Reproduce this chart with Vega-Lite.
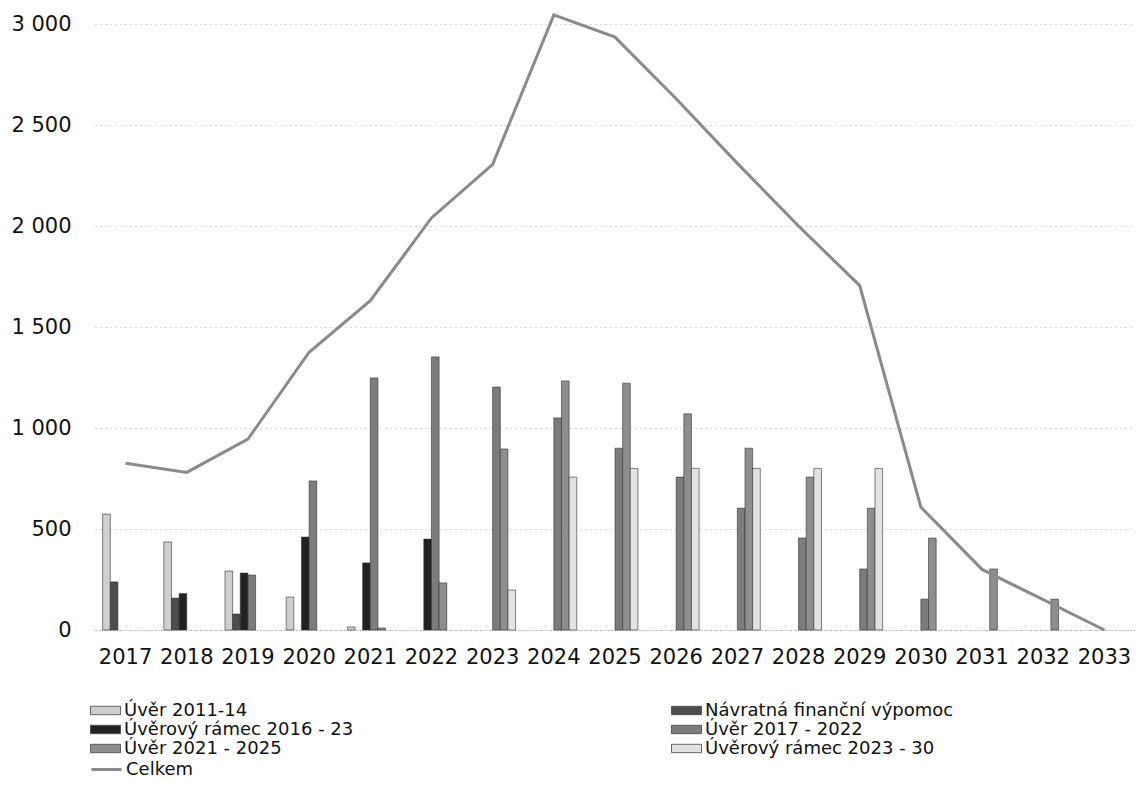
{
  "$schema": "https://vega.github.io/schema/vega-lite/v6.json",
  "width": 1040,
  "height": 606,
  "autosize": {"type": "none"},
  "padding": {"left": 95, "top": 24, "right": 1, "bottom": 166},
  "background": "white",
  "config": {"view": {"stroke": null}, "font": "DejaVu Sans"},
  "data": {
    "values": [
      {"year": "2017", "series": "Úvěr 2011-14", "value": 574},
      {"year": "2017", "series": "Návratná finanční výpomoc", "value": 238},
      {"year": "2018", "series": "Úvěr 2011-14", "value": 436},
      {"year": "2018", "series": "Návratná finanční výpomoc", "value": 158},
      {"year": "2018", "series": "Úvěrový rámec  2016 - 23", "value": 180},
      {"year": "2019", "series": "Úvěr 2011-14", "value": 292},
      {"year": "2019", "series": "Návratná finanční výpomoc", "value": 79},
      {"year": "2019", "series": "Úvěrový rámec  2016 - 23", "value": 282},
      {"year": "2019", "series": "Úvěr 2017 - 2022", "value": 272},
      {"year": "2020", "series": "Úvěr 2011-14", "value": 163},
      {"year": "2020", "series": "Úvěrový rámec  2016 - 23", "value": 460},
      {"year": "2020", "series": "Úvěr 2017 - 2022", "value": 738},
      {"year": "2021", "series": "Úvěr 2011-14", "value": 15},
      {"year": "2021", "series": "Úvěrový rámec  2016 - 23", "value": 332},
      {"year": "2021", "series": "Úvěr 2017 - 2022", "value": 1248},
      {"year": "2021", "series": "Úvěr 2021 - 2025", "value": 10},
      {"year": "2022", "series": "Úvěrový rámec  2016 - 23", "value": 450},
      {"year": "2022", "series": "Úvěr 2017 - 2022", "value": 1352},
      {"year": "2022", "series": "Úvěr 2021 - 2025", "value": 233},
      {"year": "2023", "series": "Úvěr 2017 - 2022", "value": 1203},
      {"year": "2023", "series": "Úvěr 2021 - 2025", "value": 896},
      {"year": "2023", "series": "Úvěrový rámec  2023 - 30", "value": 198},
      {"year": "2024", "series": "Úvěr 2017 - 2022", "value": 1050},
      {"year": "2024", "series": "Úvěr 2021 - 2025", "value": 1233},
      {"year": "2024", "series": "Úvěrový rámec  2023 - 30", "value": 757},
      {"year": "2025", "series": "Úvěr 2017 - 2022", "value": 900},
      {"year": "2025", "series": "Úvěr 2021 - 2025", "value": 1222},
      {"year": "2025", "series": "Úvěrový rámec  2023 - 30", "value": 800},
      {"year": "2026", "series": "Úvěr 2017 - 2022", "value": 757},
      {"year": "2026", "series": "Úvěr 2021 - 2025", "value": 1070},
      {"year": "2026", "series": "Úvěrový rámec  2023 - 30", "value": 800},
      {"year": "2027", "series": "Úvěr 2017 - 2022", "value": 603},
      {"year": "2027", "series": "Úvěr 2021 - 2025", "value": 900},
      {"year": "2027", "series": "Úvěrový rámec  2023 - 30", "value": 800},
      {"year": "2028", "series": "Úvěr 2017 - 2022", "value": 455},
      {"year": "2028", "series": "Úvěr 2021 - 2025", "value": 757},
      {"year": "2028", "series": "Úvěrový rámec  2023 - 30", "value": 800},
      {"year": "2029", "series": "Úvěr 2017 - 2022", "value": 302},
      {"year": "2029", "series": "Úvěr 2021 - 2025", "value": 603},
      {"year": "2029", "series": "Úvěrový rámec  2023 - 30", "value": 800},
      {"year": "2030", "series": "Úvěr 2017 - 2022", "value": 153},
      {"year": "2030", "series": "Úvěr 2021 - 2025", "value": 455},
      {"year": "2031", "series": "Úvěr 2021 - 2025", "value": 302},
      {"year": "2032", "series": "Úvěr 2021 - 2025", "value": 153},
      {"year": "2017", "series": "Celkem", "value": 825},
      {"year": "2018", "series": "Celkem", "value": 780},
      {"year": "2019", "series": "Celkem", "value": 945},
      {"year": "2020", "series": "Celkem", "value": 1375},
      {"year": "2021", "series": "Celkem", "value": 1630},
      {"year": "2022", "series": "Celkem", "value": 2040},
      {"year": "2023", "series": "Celkem", "value": 2305},
      {"year": "2024", "series": "Celkem", "value": 3045},
      {"year": "2025", "series": "Celkem", "value": 2935},
      {"year": "2026", "series": "Celkem", "value": 2630},
      {"year": "2027", "series": "Celkem", "value": 2310},
      {"year": "2028", "series": "Celkem", "value": 2000},
      {"year": "2029", "series": "Celkem", "value": 1705},
      {"year": "2030", "series": "Celkem", "value": 608},
      {"year": "2031", "series": "Celkem", "value": 300},
      {"year": "2032", "series": "Celkem", "value": 150},
      {"year": "2033", "series": "Celkem", "value": 0}
    ]
  },
  "layer": [
    {
      "transform": [{"filter": "datum.series !== 'Celkem'"}],
      "mark": {"type": "bar", "stroke": "#333", "strokeWidth": 0.6},
      "encoding": {
        "x": {
          "field": "year",
          "type": "ordinal",
          "scale": {"paddingInner": 0, "paddingOuter": 0},
          "axis": {
            "title": null,
            "labelAngle": 0,
            "labelFontSize": 21,
            "labelColor": "#111",
            "labelPadding": 16,
            "ticks": false,
            "domainColor": "#999",
            "domainDash": [1, 2],
            "domainWidth": 1
          }
        },
        "xOffset": {
          "field": "series",
          "type": "nominal",
          "scale": {
            "domain": ["Úvěr 2011-14", "Návratná finanční výpomoc", "Úvěrový rámec  2016 - 23", "Úvěr 2017 - 2022", "Úvěr 2021 - 2025", "Úvěrový rámec  2023 - 30"],
            "paddingInner": 0,
            "paddingOuter": 1.37
          }
        },
        "y": {
          "field": "value",
          "type": "quantitative",
          "scale": {"domain": [0, 3000], "nice": false},
          "axis": {
            "title": null,
            "values": [0, 500, 1000, 1500, 2000, 2500, 3000],
            "labelExpr": "replace(format(datum.value, ','), ',', ' ')",
            "labelFontSize": 21,
            "labelColor": "#111",
            "labelPadding": 24,
            "ticks": false,
            "domain": false,
            "gridColor": "#aaa",
            "gridDash": [1, 4],
            "gridWidth": 1
          }
        },
        "fill": {
          "field": "series",
          "type": "nominal",
          "scale": {
            "domain": ["Úvěr 2011-14", "Návratná finanční výpomoc", "Úvěrový rámec  2016 - 23", "Úvěr 2017 - 2022", "Úvěr 2021 - 2025", "Úvěrový rámec  2023 - 30"],
            "range": ["#cfcfcf", "#4d4d4d", "#222222", "#7c7c7c", "#8e8e8e", "#e2e2e2"]
          },
          "legend": {
            "orient": "none",
            "legendX": -5,
            "legendY": 677,
            "direction": "horizontal",
            "columns": 2,
            "columnPadding": 312,
            "rowPadding": 0,
            "clipHeight": 19,
            "symbolSize": 900,
            "symbolType": "M-1,-0.28H1V0.28H-1Z",
            "symbolStrokeColor": "#444",
            "symbolStrokeWidth": 0.8,
            "labelFontSize": 18,
            "labelColor": "#111",
            "labelOffset": 3,
            "labelLimit": 0,
            "title": null,
            "padding": 0
          }
        }
      }
    },
    {
      "transform": [{"filter": "datum.series === 'Celkem'"}],
      "mark": {"type": "line", "strokeWidth": 3, "clip": false},
      "encoding": {
        "x": {"field": "year", "type": "ordinal"},
        "y": {"field": "value", "type": "quantitative"},
        "stroke": {
          "field": "series",
          "type": "nominal",
          "scale": {"domain": ["Celkem"], "range": ["#8a8a8a"]},
          "legend": {
            "orient": "none",
            "legendX": -5,
            "legendY": 736,
            "clipHeight": 19,
            "symbolSize": 900,
            "symbolType": "stroke",
            "symbolStrokeWidth": 3,
            "labelFontSize": 18,
            "labelColor": "#111",
            "labelOffset": 3,
            "labelLimit": 0,
            "title": null,
            "padding": 0
          }
        }
      }
    }
  ]
}
